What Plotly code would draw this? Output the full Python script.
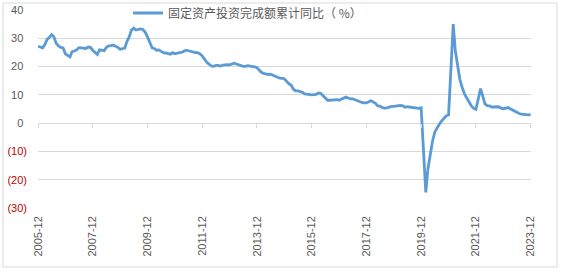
import plotly.graph_objects as go

# ---- data (cumulative YoY %, Jan not published; Dec of prior year then Feb..Dec) ----
start_period = "2005-12"
start_value = 27.2
years = list(range(2006, 2024))
months = [2, 3, 4, 5, 6, 7, 8, 9, 10, 11, 12]
yoy_2006 = [26.6, 27.7, 29.6, 30.3, 31.3, 30.5, 28.2, 27.3, 26.8, 26.6, 24.5]
yoy_2007 = [23.4, 25.3, 25.5, 25.9, 26.7, 26.6, 26.7, 26.4, 26.9, 26.8, 25.8]
yoy_2008 = [24.3, 25.9, 25.7, 25.6, 26.8, 27.3, 27.4, 27.6, 27.2, 26.8, 26.1]
yoy_2009 = [26.5, 28.8, 30.5, 32.9, 33.6, 32.9, 33.0, 33.3, 33.1, 32.1, 30.5]
yoy_2010 = [26.6, 26.4, 25.8, 25.9, 25.5, 24.9, 24.8, 24.5, 24.4, 24.9, 24.5]
yoy_2011 = [24.9, 25.0, 25.4, 25.8, 25.6, 25.4, 25.0, 24.9, 24.9, 24.5, 23.8]
yoy_2012 = [21.5, 20.9, 20.2, 20.1, 20.4, 20.4, 20.2, 20.5, 20.7, 20.7, 20.6]
yoy_2013 = [21.2, 20.9, 20.6, 20.4, 20.1, 20.1, 20.3, 20.2, 20.1, 19.9, 19.6]
yoy_2014 = [17.9, 17.6, 17.3, 17.2, 17.3, 17.0, 16.5, 16.1, 15.9, 15.8, 15.7]
yoy_2015 = [13.9, 13.5, 12.0, 11.4, 11.4, 11.2, 10.9, 10.3, 10.2, 10.2, 10.0]
yoy_2016 = [10.2, 10.7, 10.5, 9.6, 9.0, 8.1, 8.1, 8.2, 8.3, 8.3, 8.1]
yoy_2017 = [8.9, 9.2, 8.9, 8.6, 8.6, 8.3, 7.8, 7.5, 7.3, 7.2, 7.2]
yoy_2018 = [7.9, 7.5, 7.0, 6.1, 6.0, 5.5, 5.3, 5.4, 5.7, 5.9, 5.9]
yoy_2019 = [6.1, 6.3, 6.1, 5.6, 5.8, 5.7, 5.5, 5.4, 5.2, 5.2, 5.4]
yoy_2020 = [-24.5, -16.1, -10.3, -6.3, -3.1, -1.6, -0.3, 0.8, 1.8, 2.6, 2.9]
yoy_2021 = [35.0, 25.6, 19.9, 15.4, 12.6, 10.3, 8.9, 7.3, 6.1, 5.2, 4.9]
yoy_2022 = [12.2, 9.3, 6.8, 6.2, 6.1, 5.7, 5.8, 5.9, 5.8, 5.3, 5.1]
yoy_2023 = [5.5, 5.1, 4.7, 4.0, 3.8, 3.4, 3.2, 3.1, 2.9, 2.9, 3.0]

yearly = [yoy_2006, yoy_2007, yoy_2008, yoy_2009, yoy_2010, yoy_2011, yoy_2012,
          yoy_2013, yoy_2014, yoy_2015, yoy_2016, yoy_2017, yoy_2018, yoy_2019,
          yoy_2020, yoy_2021, yoy_2022, yoy_2023]

x_tick_labels = ["2005-12", "2007-12", "2009-12", "2011-12", "2013-12",
                 "2015-12", "2017-12", "2019-12", "2021-12", "2023-12"]
y_tick_vals = [40, 30, 20, 10, 0, -10, -20, -30]
series_name = "固定资产投资完成额累计同比（ %）"

# ---- build series ----
dates = [start_period + "-01"]
values = [start_value]
for y, vals in zip(years, yearly):
    for m, v in zip(months, vals):
        dates.append(f"{y}-{m:02d}-01")
        values.append(v)

def ylab(v):
    if v < 0:
        return f'<span style="color:#C00000">({abs(v)})</span>'
    return f'{v}<span style="color:rgba(0,0,0,0)">)</span>'

font_family = "Liberation Sans, Arial, Noto Sans CJK SC, sans-serif"
grey = "#595959"
grid = "#D9D9D9"

fig = go.Figure()
fig.add_trace(go.Scatter(
    x=dates, y=values, mode="lines", name=series_name,
    line=dict(color="#5B9BD5", width=2.8),
))
# invisible trace to carry the tick marks on the zero-line axis
fig.add_trace(go.Scatter(x=[dates[0], dates[-1]], y=[None, None], xaxis="x2",
                         showlegend=False, hoverinfo="skip"))

x_tick_dates = [l + "-01" for l in x_tick_labels]
x_range = ["2005-12-01", "2023-12-06"]

fig.update_layout(
    width=563, height=274,
    margin=dict(l=38, r=32, t=10, b=66, autoexpand=False),
    paper_bgcolor="white", plot_bgcolor="white",
    font=dict(family=font_family, color=grey, size=11),
    showlegend=True,
    legend=dict(
        orientation="h", xref="container", yref="container",
        x=128 / 563, xanchor="left", y=1 - 13 / 274, yanchor="middle",
        font=dict(size=12, color=grey, family="Noto Sans CJK SC, sans-serif"),
        bgcolor="rgba(0,0,0,0)", itemwidth=30,
    ),
    xaxis=dict(
        type="date", range=x_range,
        tickvals=x_tick_dates, ticktext=x_tick_labels,
        tickangle=-90, ticks="", showgrid=False, zeroline=False,
        showline=False, ticklabelstandoff=5,
        tickfont=dict(size=11, color=grey),
    ),
    xaxis2=dict(
        type="date", range=x_range, overlaying="x", anchor="free",
        position=30 / 70, side="bottom",
        tickvals=x_tick_dates, showticklabels=False,
        ticks="outside", ticklen=4, tickcolor=grid, tickwidth=1,
        showgrid=False, zeroline=False, showline=False,
    ),
    yaxis=dict(
        range=[-30, 40], tickvals=y_tick_vals,
        ticktext=[ylab(v) for v in y_tick_vals],
        showgrid=True, gridcolor=grid, gridwidth=1,
        zeroline=True, zerolinecolor=grid, zerolinewidth=1,
        showline=False, ticks="", ticklabelstandoff=10,
        tickfont=dict(size=11, color=grey),
    ),
    shapes=[dict(
        type="rect", xref="paper", yref="paper",
        x0=(3 - 38) / 493, x1=(557 - 38) / 493,
        y0=(208 - 267) / 198, y1=(208 - 3) / 198,
        line=dict(color=grid, width=1), fillcolor="rgba(0,0,0,0)", layer="below",
    )],
)

fig.write_html("out.html")
